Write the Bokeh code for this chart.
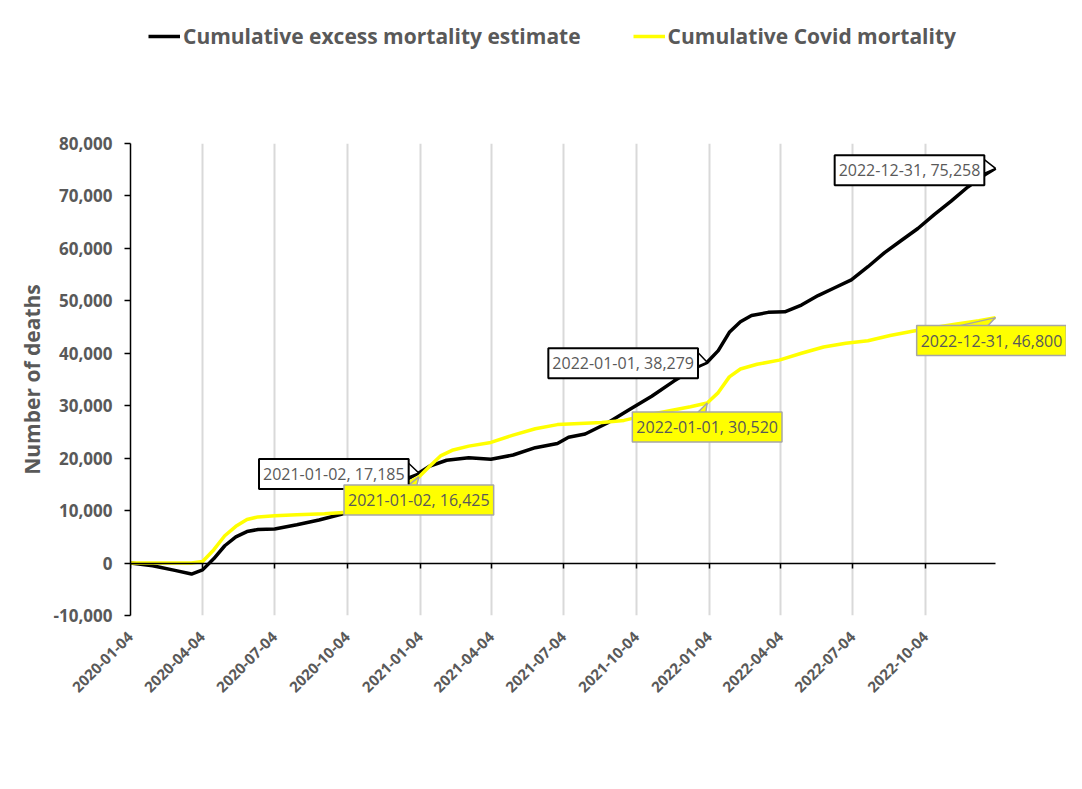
import math
import pandas as pd
from bokeh.plotting import figure
from bokeh.layouts import column
from bokeh.models import (Range1d, FixedTicker, NumeralTickFormatter, CustomJSTickFormatter,
                          DatetimeAxis, Legend, LegendItem, Label, ColumnDataSource)
from bokeh.embed import file_html
from bokeh.resources import INLINE

# ---------------- data ----------------
excess_dates = ["2020-01-04", "2020-02-01", "2020-02-29", "2020-03-21", "2020-04-04", "2020-04-18",
                "2020-05-02", "2020-05-16", "2020-05-30", "2020-06-13", "2020-07-04", "2020-08-01",
                "2020-08-29", "2020-09-26", "2020-10-24", "2020-11-21", "2020-12-12", "2021-01-02",
                "2021-01-16", "2021-02-06", "2021-03-06", "2021-04-03", "2021-05-01", "2021-05-29",
                "2021-06-26", "2021-07-10", "2021-07-31", "2021-08-28", "2021-09-25", "2021-10-23",
                "2021-11-20", "2021-12-18", "2022-01-01", "2022-01-15", "2022-01-29", "2022-02-12",
                "2022-02-26", "2022-03-19", "2022-04-09", "2022-04-30", "2022-05-21", "2022-06-11",
                "2022-07-02", "2022-07-23", "2022-08-13", "2022-09-03", "2022-09-24", "2022-10-15",
                "2022-11-05", "2022-11-26", "2022-12-17", "2022-12-31"]
excess_values = [0, -500, -1400, -2100, -1300, 800,
                 3300, 5000, 6000, 6400, 6500, 7300,
                 8200, 9300, 10800, 13300, 15500, 17185,
                 18500, 19600, 20100, 19800, 20600, 22000,
                 22800, 24000, 24600, 26700, 29300, 31800,
                 34700, 37300, 38279, 40500, 44000, 46000,
                 47200, 47800, 47900, 49200, 51000, 52500,
                 54000, 56500, 59200, 61500, 63800, 66500,
                 69000, 71700, 74000, 75258]

covid_dates = ["2020-01-04", "2020-03-21", "2020-04-04", "2020-04-18", "2020-05-02", "2020-05-16",
               "2020-05-30", "2020-06-13", "2020-07-04", "2020-08-01", "2020-09-05", "2020-10-03",
               "2020-10-31", "2020-11-28", "2020-12-19", "2021-01-02", "2021-01-16", "2021-01-30",
               "2021-02-13", "2021-03-06", "2021-04-03", "2021-05-01", "2021-05-29", "2021-06-26",
               "2021-07-24", "2021-08-21", "2021-09-18", "2021-10-16", "2021-11-13", "2021-12-11",
               "2022-01-01", "2022-01-15", "2022-01-29", "2022-02-12", "2022-03-05", "2022-04-02",
               "2022-04-30", "2022-05-28", "2022-06-25", "2022-07-23", "2022-08-20", "2022-09-17",
               "2022-10-15", "2022-11-12", "2022-12-10", "2022-12-31"]
covid_values = [0, 0, 300, 2500, 5200, 7000,
                8300, 8800, 9000, 9200, 9400, 9700,
                10800, 13000, 15200, 16425, 18500, 20500,
                21500, 22300, 23000, 24400, 25600, 26400,
                26600, 26800, 27200, 28200, 29000, 29800,
                30520, 32500, 35500, 37000, 37900, 38700,
                40000, 41200, 41900, 42400, 43400, 44200,
                44900, 45600, 46200, 46800]

tick_dates = ["2020-01-04", "2020-04-04", "2020-07-04", "2020-10-04", "2021-01-04", "2021-04-04",
              "2021-07-04", "2021-10-04", "2022-01-04", "2022-04-04", "2022-07-04", "2022-10-04"]
y_ticks = [-10000, 0, 10000, 20000, 30000, 40000, 50000, 60000, 70000, 80000]

callout_dates = ["2021-01-02", "2022-01-01", "2022-12-31"]
excess_callout_values = [17185, 38279, 75258]
covid_callout_values = [16425, 30520, 46800]

series_names = ["Cumulative excess mortality estimate", "Cumulative Covid mortality"]
series_colors = ["black", "#FFFF00"]
y_title = "Number of deaths"

# ---------------- layout ----------------
def ms(s):
    return pd.Timestamp(s).value / 1e6

FONT = "Open Sans"
GREY = "#595959"
W = 1066
TOP_H = 100                       # legend strip above the plot
ML, MT, MB = 130, 43, 158
FH = 472
H = MT + FH + MB
DATA_W = 865                      # pixels covered by the data range
FW = W - ML
x0, x1 = ms(excess_dates[0]), ms(excess_dates[-1])
y0, y1 = -10000, 80000
px_x = DATA_W / (x1 - x0)         # pixels per ms
px_y = FH / (y1 - y0)             # pixels per unit
x_end = x0 + FW / px_x            # frame extends past the data so callouts are not clipped

# ---------- legend strip ----------
top = figure(width=W, height=TOP_H, x_range=Range1d(0, 1), y_range=Range1d(0, 1),
             output_backend="svg", toolbar_location=None,
             x_axis_location=None, y_axis_location=None,
             min_border_left=0, min_border_right=0, min_border_top=0, min_border_bottom=0)
top.outline_line_color = None
top.xgrid.visible = False
top.ygrid.visible = False
nan = float("nan")
dummy = [top.line(x=[nan], y=[nan], line_color=c, line_width=3.5) for c in series_colors]
legend = Legend(items=[LegendItem(label=n, renderers=[r]) for n, r in zip(series_names, dummy)],
                location=(18, TOP_H - 50), orientation="horizontal",
                glyph_width=32, glyph_height=20, label_height=20, label_standoff=3,
                padding=0, margin=0, spacing=52,
                border_line_color=None, background_fill_alpha=0,
                label_text_font=FONT, label_text_font_style="bold",
                label_text_font_size="21px", label_text_color=GREY)
top.add_layout(legend, "center")

# ---------- main plot ----------
p = figure(width=W, height=H, x_axis_type="datetime",
           x_range=Range1d(x0, x_end), y_range=Range1d(y0, y1),
           output_backend="svg", toolbar_location=None,
           min_border_left=ML, min_border_right=0, min_border_top=MT, min_border_bottom=MB)
p.outline_line_color = None
p.background_fill_color = "white"
p.border_fill_color = "white"

tick_ms = [ms(d) for d in tick_dates]

# grid
p.ygrid.visible = False
p.xgrid.ticker = FixedTicker(ticks=tick_ms)
p.xgrid.grid_line_color = "#d9d9d9"
p.xgrid.grid_line_width = 2

# bottom axis with labels only
xa = p.xaxis[0]
xa.ticker = FixedTicker(ticks=tick_ms)
xa.formatter = CustomJSTickFormatter(code="return new Date(tick).toISOString().slice(0, 10);")
xa.major_label_orientation = math.pi / 4
xa.axis_line_color = None
xa.major_tick_line_color = None
xa.minor_tick_line_color = None
xa.major_label_standoff = 13
xa.major_label_text_font = FONT
xa.major_label_text_font_style = "bold"
xa.major_label_text_font_size = "15px"
xa.major_label_text_color = GREY
xa.bounds = (x0, x1)

# axis line at y = 0 with ticks
ax0 = DatetimeAxis(fixed_location=0, ticker=FixedTicker(ticks=tick_ms), bounds=(x0, x1),
                   axis_line_color="black", axis_line_width=1.5,
                   major_tick_out=5, major_tick_in=0, major_tick_line_color="black",
                   major_tick_line_width=1.5, minor_tick_line_color=None,
                   major_label_text_font_size="0px", major_label_standoff=0)
p.add_layout(ax0, "below")

# y axis
ya = p.yaxis[0]
ya.ticker = FixedTicker(ticks=y_ticks)
ya.formatter = NumeralTickFormatter(format="0,0")
ya.axis_line_color = "black"
ya.axis_line_width = 1.5
ya.major_tick_out = 6
ya.major_tick_in = 0
ya.major_tick_line_color = "black"
ya.major_tick_line_width = 1.5
ya.minor_tick_line_color = None
ya.major_label_standoff = 12
ya.major_label_text_font = FONT
ya.major_label_text_font_style = "bold"
ya.major_label_text_font_size = "17px"
ya.major_label_text_color = GREY
ya.axis_label = y_title
ya.axis_label_text_font = FONT
ya.axis_label_text_font_style = "bold"
ya.axis_label_text_font_size = "21px"
ya.axis_label_text_color = GREY
ya.axis_label_standoff = 5

# series
src_e = ColumnDataSource(dict(x=pd.to_datetime(excess_dates), y=excess_values))
src_c = ColumnDataSource(dict(x=pd.to_datetime(covid_dates), y=covid_values))
p.line("x", "y", source=src_e, line_color=series_colors[0], line_width=3.5, line_join="round")
p.line("x", "y", source=src_c, line_color=series_colors[1], line_width=3.5, line_join="round")

# callouts
BOX_W, BOX_H = 155, 26

def tail(date, val, pts, fill, line):
    xs = [ms(date) + dx / px_x for dx, dy in pts]
    ys = [val + dy / px_y for dx, dy in pts]
    p.patch(xs, ys, fill_color=fill, line_color=line, line_width=1.5)

def callout(date, val, dx, dy, fill, line, lw):
    p.add_layout(Label(x=ms(date), y=val, x_offset=dx, y_offset=dy,
                       text=f"{date}, {val:,}", text_align="center", text_baseline="middle",
                       text_font=FONT, text_font_size="16px", text_color=GREY,
                       background_fill_color=fill, border_line_color=line,
                       border_line_width=lw, padding=4))

black_dx = [-85, -84, -86]
black_dy = [-1, -1, -2]
yellow_dx = [0, 0, -4]
yellow_dy = [-23, -24, -23]
yellow_tail_base = [(-16, -3), (-14, -2), (-58, -12)]

for i, d in enumerate(callout_dates):
    v = excess_callout_values[i]
    bx = black_dx[i] + BOX_W / 2 - 3
    by = black_dy[i]
    tail(d, v, [(bx, by + 11), (0, 0), (bx, by - 3)], "white", "black")
    callout(d, v, black_dx[i], black_dy[i], "white", "black", 2)

for i, d in enumerate(callout_dates):
    v = covid_callout_values[i]
    tp = yellow_dy[i] + BOX_H / 2 - 3
    a, b = yellow_tail_base[i]
    tail(d, v, [(a, tp), (0, 0), (b, tp)], series_colors[1], "#a6a6a6")
    callout(d, v, yellow_dx[i], yellow_dy[i], series_colors[1], "#a6a6a6", 1.5)

open("out.html", "w").write(file_html(column(top, p), INLINE))
